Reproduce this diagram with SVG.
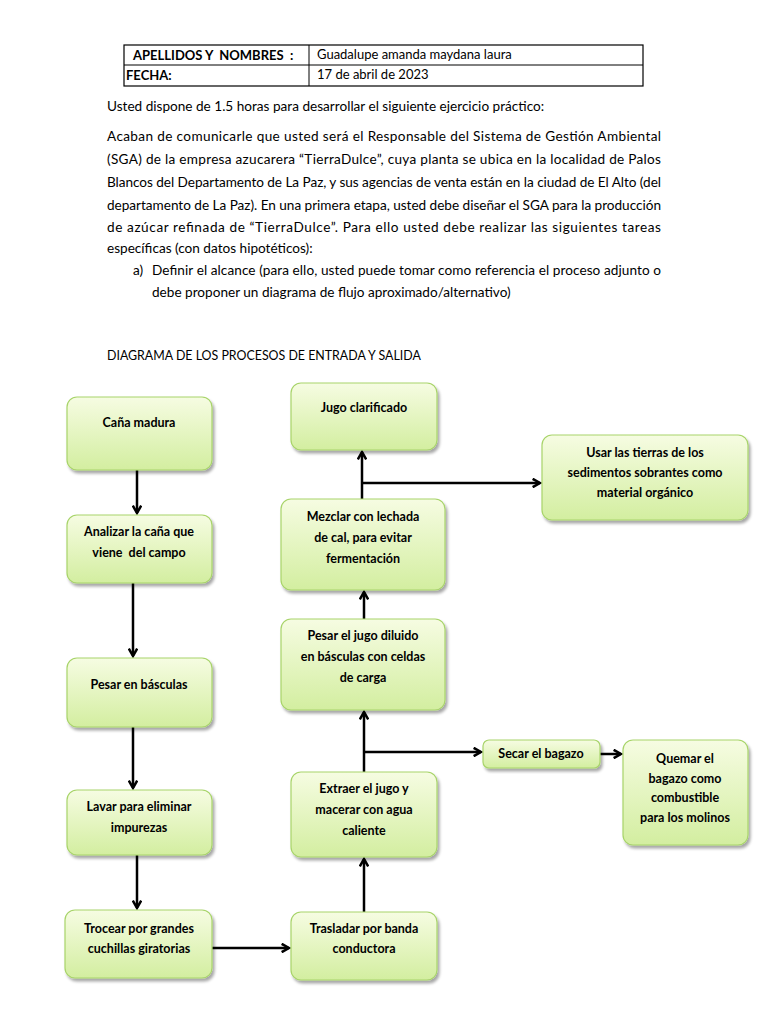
<svg xmlns="http://www.w3.org/2000/svg" width="768" height="1024" viewBox="0 0 768 1024">
<defs>
<linearGradient id="g" x1="0" y1="0" x2="0" y2="1">
<stop offset="0" stop-color="#f6fce2"/>
<stop offset="1" stop-color="#d3eea0"/>
</linearGradient>
<filter id="sh" x="-10%" y="-10%" width="125%" height="130%">
<feGaussianBlur in="SourceAlpha" stdDeviation="1.5"/>
<feOffset dx="2" dy="3" result="o"/>
<feComponentTransfer><feFuncA type="linear" slope="0.35"/></feComponentTransfer>
<feMerge><feMergeNode/><feMergeNode in="SourceGraphic"/></feMerge>
</filter>
<marker id="ah" viewBox="0 0 10 10" refX="8" refY="5" markerWidth="4.2" markerHeight="4.2" orient="auto" markerUnits="strokeWidth">
<path d="M1,1 L8,5 L1,9" fill="none" stroke="#000" stroke-width="2.4"/>
</marker>
</defs>
<style>
.t{font-family:Lato,"Liberation Sans",sans-serif;font-size:13.6px;fill:#000;white-space:pre}
.b{font-family:Lato,"Liberation Sans",sans-serif;font-size:12.5px;font-weight:bold;fill:#000;text-anchor:middle;white-space:pre}
.box{fill:url(#g);stroke:#a8d46a;stroke-width:1.2;filter:url(#sh)}
.c{fill:none;stroke:#000;stroke-width:2.5}
.a{marker-end:url(#ah)}
</style>
<rect width="768" height="1024" fill="#fff"/>
<g id="table">
<rect x="124" y="45" width="519" height="41" fill="none" stroke="#000" stroke-width="1.2"/>
<line x1="124" y1="65" x2="643" y2="65" stroke="#000" stroke-width="1"/>
<line x1="309" y1="45" x2="309" y2="86" stroke="#000" stroke-width="1"/>
<text class="t" x="133" y="60" font-weight="bold" style="font-size:13px">APELLIDOS Y  NOMBRES  :</text>
<text class="t" x="126" y="80" font-weight="bold" style="font-size:13px">FECHA:</text>
<text class="t" x="317" y="59" style="font-size:13px">Guadalupe amanda maydana laura</text>
<text class="t" x="317" y="79" style="font-size:13px">17 de abril de 2023</text>
</g>
<g id="body">
<text class="t" x="107" y="111">Usted dispone de 1.5 horas para desarrollar el siguiente ejercicio práctico:</text>
<text class="t" x="107" y="141" textLength="554" lengthAdjust="spacing">Acaban de comunicarle que usted será el Responsable del Sistema de Gestión Ambiental</text>
<text class="t" x="107" y="164" textLength="554" lengthAdjust="spacing">(SGA) de la empresa azucarera “TierraDulce”, cuya planta se ubica en la localidad de Palos</text>
<text class="t" x="107" y="187" textLength="554" lengthAdjust="spacing">Blancos del Departamento de La Paz, y sus agencias de venta están en la ciudad de El Alto (del</text>
<text class="t" x="107" y="210" textLength="554" lengthAdjust="spacing">departamento de La Paz). En una primera etapa, usted debe diseñar el SGA para la producción</text>
<text class="t" x="107" y="232" textLength="554" lengthAdjust="spacing">de azúcar refinada de “TierraDulce”. Para ello usted debe realizar las siguientes tareas</text>
<text class="t" x="107" y="253">específicas (con datos hipotéticos):</text>
<text class="t" x="133" y="275">a)</text>
<text class="t" x="152" y="275" textLength="509" lengthAdjust="spacing">Definir el alcance (para ello, usted puede tomar como referencia el proceso adjunto o</text>
<text class="t" x="152" y="297">debe proponer un diagrama de flujo aproximado/alternativo)</text>
<text class="t" x="107" y="360" style="font-size:12.4px">DIAGRAMA DE LOS PROCESOS DE ENTRADA Y SALIDA</text>
</g>
<g id="connectors">
<path class="c a" d="M137,470 V513"/>
<path class="c a" d="M133,583 V656"/>
<path class="c a" d="M133,727 V788"/>
<path class="c a" d="M137,855 V908"/>
<path class="c a" d="M212,948 H289"/>
<path class="c a" d="M364,912 V859"/>
<path class="c a" d="M364,772 V712"/>
<path class="c a" d="M364,752 H481"/>
<path class="c a" d="M600,754 H621"/>
<path class="c a" d="M364,619 V592"/>
<path class="c a" d="M362,499 V452"/>
<path class="c a" d="M362,483 H540"/>
</g>
<g id="n1"><rect class="box" x="67" y="397" width="145" height="73" rx="10"/><text class="b" x="139" y="427">Caña madura</text></g>
<g id="n2"><rect class="box" x="67" y="515" width="145" height="68" rx="10"/><text class="b" x="139" y="536">Analizar la caña que</text><text class="b" x="139" y="557">viene  del campo</text></g>
<g id="n3"><rect class="box" x="67" y="658" width="145" height="69" rx="10"/><text class="b" x="139" y="689">Pesar en básculas</text></g>
<g id="n4"><rect class="box" x="67" y="790" width="145" height="65" rx="10"/><text class="b" x="139" y="811">Lavar para eliminar</text><text class="b" x="139" y="832">impurezas</text></g>
<g id="n5"><rect class="box" x="65" y="910" width="147" height="68" rx="10"/><text class="b" x="139" y="933">Trocear por grandes</text><text class="b" x="139" y="953">cuchillas giratorias</text></g>
<g id="n6"><rect class="box" x="291" y="912" width="146" height="68" rx="10"/><text class="b" x="364" y="933">Trasladar por banda</text><text class="b" x="364" y="953">conductora</text></g>
<g id="n7"><rect class="box" x="291" y="772" width="146" height="85" rx="10"/><text class="b" x="364" y="793">Extraer el jugo y</text><text class="b" x="364" y="814">macerar con agua</text><text class="b" x="364" y="835">caliente</text></g>
<g id="n8"><rect class="box" x="281" y="619" width="164" height="91" rx="10"/><text class="b" x="363" y="640">Pesar el jugo diluido</text><text class="b" x="363" y="661">en básculas con celdas</text><text class="b" x="363" y="682">de carga</text></g>
<g id="n9"><rect class="box" x="281" y="499" width="164" height="91" rx="10"/><text class="b" x="363" y="521">Mezclar con lechada</text><text class="b" x="363" y="542">de cal, para evitar</text><text class="b" x="363" y="563">fermentación</text></g>
<g id="n10"><rect class="box" x="291" y="383" width="146" height="67" rx="10"/><text class="b" x="364" y="412">Jugo clarificado</text></g>
<g id="n11"><rect class="box" x="542" y="435" width="206" height="85" rx="10"/><text class="b" x="645" y="457">Usar las tierras de los</text><text class="b" x="645" y="477">sedimentos sobrantes como</text><text class="b" x="645" y="497">material orgánico</text></g>
<g id="n12"><rect class="box" x="483" y="740" width="117" height="28" rx="6"/><text class="b" x="541" y="758">Secar el bagazo</text></g>
<g id="n13"><rect class="box" x="623" y="740" width="125" height="105" rx="10"/><text class="b" x="685" y="763">Quemar el</text><text class="b" x="685" y="783">bagazo como</text><text class="b" x="685" y="802">combustible</text><text class="b" x="685" y="822">para los molinos</text></g>
</svg>
